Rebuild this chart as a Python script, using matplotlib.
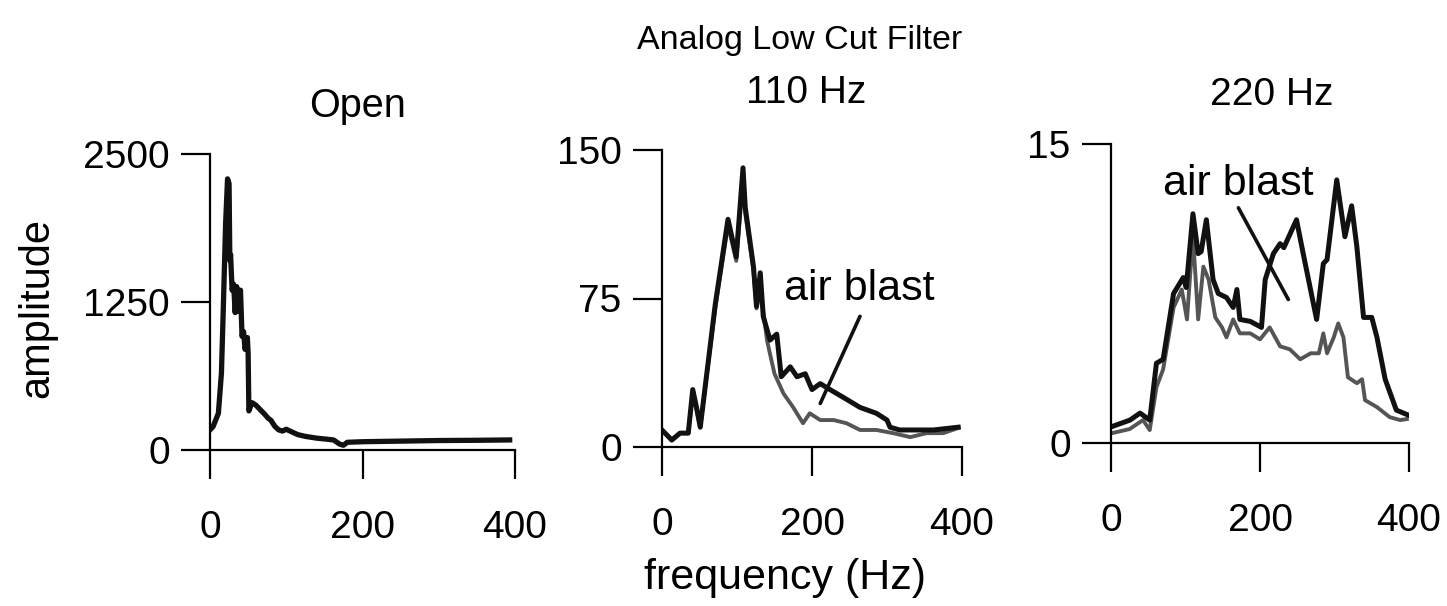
import numpy as np
import matplotlib
matplotlib.use('Agg')
import matplotlib.pyplot as plt

plt.rcParams['font.family'] = ['Liberation Sans', 'DejaVu Sans']

# ---- data (frequency Hz, amplitude) ----
# Open
open_f = [0, 4, 11, 15, 17.5, 20.5, 23, 25, 26, 27, 29, 31, 33, 35, 37, 40, 42, 44, 46,
          49, 50, 51, 55, 60, 66, 72, 76, 80, 85, 90, 95, 100, 105, 115, 125, 140, 155,
          162, 170, 175, 180, 200, 250, 300, 350, 393]
open_a = [170, 197, 310, 650, 1210, 1915, 2290, 2250, 1600, 1650, 1350, 1400, 1160, 1380,
          1170, 1350, 960, 1000, 850, 950, 820, 330, 400, 380, 340, 300, 270, 250, 200,
          170, 160, 175, 160, 130, 115, 100, 90, 85, 50, 40, 65, 70, 75, 80, 82, 85]

# 110 Hz, air blast (black) and without (grey)
f110_air = [0, 13, 24, 35, 41, 46, 51, 71, 88, 99, 108, 111, 122, 126, 131, 135, 144, 153,
            159, 171, 180, 191, 200, 211, 224, 242, 264, 286, 300, 304, 317, 362, 395]
a110_air = [8.6, 3.5, 7, 7, 29, 20, 10, 72, 115, 96, 141, 121, 91, 71, 88, 66, 54, 57,
            35.5, 40.5, 35.5, 37, 29, 32, 29, 25, 20, 17, 13.6, 10, 8.6, 8.6, 10]
f110_ref = [0, 13, 24, 35, 41, 46, 51, 71, 88, 99, 108, 111, 122, 126, 131, 140, 144, 150,
            162, 175, 188, 197, 211, 229, 246, 264, 286, 308, 331, 353, 375, 395]
a110_ref = [8.6, 3.5, 7, 7, 27, 19, 10, 70, 112, 94, 136, 118, 89, 70, 80, 54, 47, 37,
            27, 20, 12, 17, 13.6, 13.6, 12, 8.6, 8.6, 7, 5, 7, 7, 9.6]

# 220 Hz, air blast (black) and without (grey)
f220_air = [1, 25.5, 39, 52, 61, 70, 84, 97, 101, 110, 117, 121, 128, 137, 144, 155, 164,
            169, 173, 187, 202, 207, 218, 227, 232, 249, 258, 276, 285, 290, 303, 314, 323,
            330, 339, 350, 357, 368, 383, 399]
a220_air = [0.82, 1.15, 1.5, 1.15, 4.0, 4.2, 7.5, 8.3, 7.8, 11.5, 9.5, 9.6, 11.2, 8.2, 7.5,
            7.3, 6.8, 7.7, 6.2, 6.1, 5.8, 8.2, 9.5, 10.0, 9.8, 11.2, 9.5, 6.2, 9.0, 9.2,
            13.2, 10.35, 11.9, 9.85, 6.3, 6.3, 5.3, 3.2, 1.65, 1.4]
f220_ref = [2, 25, 43, 52, 61, 70, 84, 95, 102, 110, 117, 124, 131, 140, 149, 155, 164, 173,
            187, 200, 213, 227, 240, 254, 268, 279, 285, 290, 299, 305, 312, 318, 330, 337,
            341, 357, 374, 388, 397]
a220_ref = [0.5, 0.7, 1.15, 0.65, 2.8, 3.7, 6.8, 7.7, 6.2, 10.4, 6.2, 8.85, 8.2, 6.3, 5.8,
            5.3, 6.2, 5.5, 5.5, 5.2, 5.8, 4.85, 4.7, 4.2, 4.5, 4.5, 5.5, 4.5, 5.3, 6.0, 5.3,
            3.3, 3.0, 3.2, 2.15, 1.8, 1.3, 1.15, 1.2]

xticks = [0, 200, 400]
yticks_open = [0, 1250, 2500]
yticks_110 = [0, 75, 150]
yticks_220 = [0, 15]

# annotation: (text pos), (line start), (line end) in data units
air110_text = (263, 80)
air110_line = [(264, 66), (211, 22)]
air220_text = (171, 13.0)
air220_line = [(171, 11.8), (238, 7.2)]

W, H = 1447, 606
fig = plt.figure(figsize=(W / 100, H / 100), dpi=100)

def px_axes(left, right, y0, ytop):
    return fig.add_axes([left / W, 1 - y0 / H, (right - left) / W, (y0 - ytop) / H])

ax1 = px_axes(210, 515, 450, 154)
ax2 = px_axes(662, 962, 447, 150)
ax3 = px_axes(1111, 1409, 443, 144)

tick_fs = 28
for ax, yt in [(ax1, yticks_open), (ax2, yticks_110), (ax3, yticks_220)]:
    ax.set_xlim(0, 400)
    ax.set_ylim(yt[0], yt[-1])
    ax.set_xticks(xticks)
    ax.set_yticks(yt)
    for s in ['top', 'right']:
        ax.spines[s].set_visible(False)
    for s in ['left', 'bottom']:
        ax.spines[s].set_linewidth(1.6)
    ax.tick_params(axis='both', direction='out', length=21, width=1.6, labelsize=tick_fs)
    ax.tick_params(axis='x', pad=22)
    ax.tick_params(axis='y', pad=8)
    ax.patch.set_visible(False)

ax1.plot(open_f, open_a, color='#111111', lw=3.8, solid_joinstyle='round')

ax2.plot(f110_ref, a110_ref, color='#555555', lw=2.8, solid_joinstyle='round')
ax2.plot(f110_air, a110_air, color='#111111', lw=3.6, solid_joinstyle='round')

ax3.plot(f220_ref, a220_ref, color='#555555', lw=2.8, solid_joinstyle='round')
ax3.plot(f220_air, a220_air, color='#111111', lw=3.6, solid_joinstyle='round')

for ax, tpos, line in [(ax2, air110_text, air110_line), (ax3, air220_text, air220_line)]:
    ax.text(tpos[0], tpos[1], 'air blast', fontsize=31, ha='center', va='center')
    ax.annotate('', xy=line[1], xytext=line[0],
                arrowprops=dict(arrowstyle='-', lw=2.6, color='#111111',
                                shrinkA=0, shrinkB=0))

fig.text(800 / W, 1 - 40 / H, 'Analog Low Cut Filter', fontsize=24.5, ha='center', va='center')
fig.text(358 / W, 1 - 106 / H, 'Open', fontsize=28.5, ha='center', va='center')
fig.text(806 / W, 1 - 93 / H, '110 Hz', fontsize=28, ha='center', va='center')
fig.text(1272 / W, 1 - 95 / H, '220 Hz', fontsize=28, ha='center', va='center')
fig.text(785 / W, 1 - 578 / H, 'frequency (Hz)', fontsize=31, ha='center', va='center')
fig.text(37 / W, 1 - 308 / H, 'amplitude', fontsize=30, ha='center', va='center',
         rotation=90)

fig.savefig('out.png', dpi=100)
